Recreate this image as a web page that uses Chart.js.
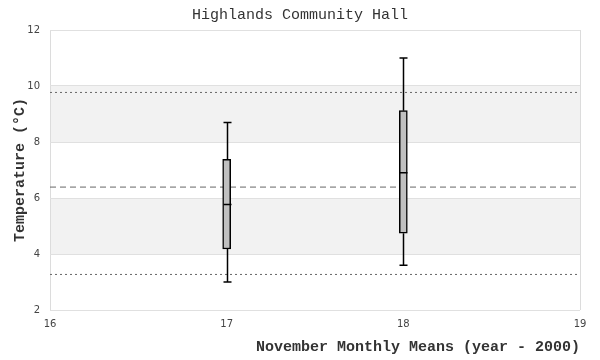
<!DOCTYPE html>
<html><head><meta charset="utf-8">
<script src="https://cdn.jsdelivr.net/npm/chart.js@4/dist/chart.umd.min.js"></script>
<style>html,body{margin:0;padding:0;background:#fff}#wrap{width:600px;height:360px}</style>
</head><body><div id="wrap"><canvas id="c" width="600" height="360"></canvas></div>
<script>
const years = [17, 18];
const whiskerMin = [3.0, 3.6];
const q1 = [4.18, 4.74];
const median = [5.77, 6.9];
const q3 = [7.38, 9.12];
const whiskerMax = [8.7, 11.0];
const upperRef = 9.77;
const meanRef = 6.39;
const lowerRef = 3.27;
const bands = [[4, 6], [8, 10]];
const xTicks = [16, 17, 18, 19];
const yTicks = [2, 4, 6, 8, 10, 12];

const mono = "'Liberation Mono', 'DejaVu Sans Mono', monospace";
const sans = "'DejaVu Sans', sans-serif";

const bgPlugin = {
  id: 'bg',
  beforeDraw(chart) {
    const {ctx, chartArea: a, scales: {y}} = chart;
    ctx.save();
    ctx.fillStyle = '#fff';
    ctx.fillRect(0, 0, chart.width, chart.height);
    ctx.fillStyle = '#f2f2f2';
    bands.forEach(([lo, hi]) => {
      const t = y.getPixelForValue(hi), b = y.getPixelForValue(lo);
      ctx.fillRect(a.left, t, a.right - a.left, b - t);
    });
    ctx.restore();
  }
};

const boxPlugin = {
  id: 'box',
  afterDatasetsDraw(chart) {
    const {ctx, scales: {x, y}} = chart;
    ctx.save();
    ctx.strokeStyle = '#000';
    ctx.lineWidth = 1.5;
    const half = 4;
    years.forEach((yr, i) => {
      const px = Math.round(x.getPixelForValue(yr)) + 0.5;
      const pMax = y.getPixelForValue(whiskerMax[i]);
      const pMin = y.getPixelForValue(whiskerMin[i]);
      const pQ1 = y.getPixelForValue(q1[i]);
      const pQ3 = y.getPixelForValue(q3[i]);
      const pMed = y.getPixelForValue(median[i]);
      ctx.beginPath();
      ctx.moveTo(px, pQ3); ctx.lineTo(px, pMax);
      ctx.moveTo(px - half, pMax); ctx.lineTo(px + half, pMax);
      ctx.moveTo(px, pQ1); ctx.lineTo(px, pMin);
      ctx.moveTo(px - half, pMin); ctx.lineTo(px + half, pMin);
      ctx.moveTo(px - half, pMed); ctx.lineTo(px + half, pMed);
      ctx.stroke();
    });
    ctx.restore();
  }
};

function refLine(val, dash) {
  return {
    type: 'line',
    data: [{x: xTicks[0], y: val}, {x: xTicks[xTicks.length - 1], y: val}],
    borderColor: '#666', borderWidth: 1, borderDash: dash,
    pointRadius: 0, fill: false, order: 2
  };
}

new Chart(document.getElementById('c'), {
  type: 'bar',
  data: {
    datasets: [
      {
        type: 'bar',
        data: years.map((yr, i) => ({x: yr, y: [q1[i], q3[i]]})),
        backgroundColor: '#c0c0c0', borderColor: '#000', borderWidth: 1.5,
        borderSkipped: false, barThickness: 8, order: 1
      },
      refLine(upperRef, [2, 3]),
      refLine(meanRef, [6, 4]),
      refLine(lowerRef, [2, 3])
    ]
  },
  options: {
    responsive: false, animation: false, devicePixelRatio: 1,
    layout: {padding: 0},
    plugins: {
      legend: {display: false}, tooltip: {enabled: false},
      title: {display: true, text: 'Highlands Community Hall', color: '#333',
        font: {family: mono, size: 15, weight: 'normal'}, padding: {top: 6, bottom: 6}}
    },
    scales: {
      x: {
        type: 'linear', min: 16, max: 19, offset: false,
        afterBuildTicks: s => { s.ticks = xTicks.map(v => ({value: v})); },
        afterFit: s => { s.height = 50; },
        ticks: {color: '#444', font: {family: sans, size: 10}, padding: 8},
        grid: {offset: false, drawTicks: false, color: c => (c.tick && (c.tick.value === 16 || c.tick.value === 19)) ? '#dcdcdc' : 'rgba(0,0,0,0)'},
        border: {display: false},
        title: {display: true, text: 'November Monthly Means (year - 2000)', align: 'end', color: '#333',
          font: {family: mono, size: 15, weight: 'bold'}, padding: {top: 4, bottom: 4}}
      },
      y: {
        min: 2, max: 12,
        afterBuildTicks: s => { s.ticks = yTicks.map(v => ({value: v})); },
        afterFit: s => { s.width = 50; },
        ticks: {color: '#444', font: {family: sans, size: 10}, padding: 10},
        grid: {drawTicks: false, color: '#e0e0e0'},
        border: {display: false},
        title: {display: true, text: 'Temperature (°C)', color: '#333',
          font: {family: mono, size: 15, weight: 'bold'}, padding: {top: 11, bottom: 4}}
      },
      yRight: {
        position: 'right', min: 2, max: 12,
        afterFit: s => { s.width = 20; },
        ticks: {display: false}, grid: {display: false, drawTicks: false}, border: {display: false}
      }
    }
  },
  plugins: [bgPlugin, boxPlugin]
});
</script></body></html>
